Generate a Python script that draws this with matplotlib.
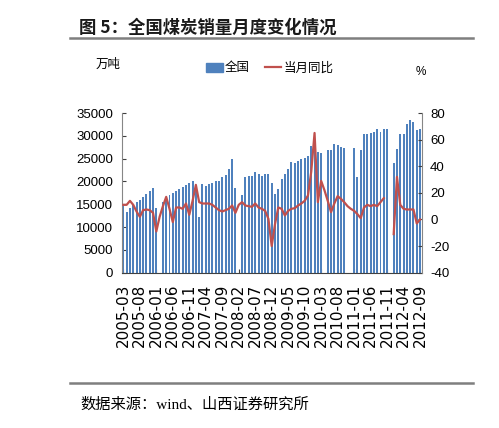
import numpy as np
import pandas as pd
import matplotlib as mpl
mpl.use("Agg")
import matplotlib.pyplot as plt
from matplotlib.patches import Patch
from matplotlib.lines import Line2D

plt.rcParams["axes.unicode_minus"] = False

# monthly categories 2005-03 .. 2012-09
months = list(pd.period_range("2005-03", "2012-09", freq="M").strftime("%Y-%m"))

# 全国煤炭销量 (万吨), nan = no bar
sales = [14850, 13400, 14100, 14800, 15400, 15950, 16500, 17300, 17800, 18650,
         14100, np.nan, 15400, 16200, 17000, 17500, 17800, 18300, 18700, 19200,
         19700, 20000, 19100, 12100, 19500, 19100, 19500, 19600, 20000, 20000,
         20900, 21500, 22800, 25000, 18500, np.nan, 17100, 20900, 21300, 21300,
         22000, 21700, 21300, 21700, 21700, 19700, 17300, 18400, 20600, 21700,
         22800, 24200, 24100, 24400, 25000, 25200, 25600, 27700, 26800, 26500,
         26200, np.nan, 27000, 27000, 28100, 27900, 27600, 27300, np.nan, np.nan,
         27300, 20900, 26800, 30300, 30500, 30650, 30900, 31600, 30900, 31600,
         31400, np.nan, 24100, 27200, 30300, 30500, 32500, 33400, 33100, 31200,
         31600]

# 当月同比 (%)
yoy = [11, 11, 14, 11, 6, 2, 7, 7.5, 7, 5,
       -9, 2, 10, 17, 8, -2, 9, 9, 8, 12,
       3.5, 14, 26, 13, 12, 12, 12, 11, 9, 7,
       6, 7, 8, 10.5, 5, 11, 13, 10.5, 10, 9.5,
       12, 9, 8, 6.5, 0.5, -20, -3.5, 9, 8, 3,
       6.5, 8, 8.5, 10.5, 12, 14, 18, 36, 65, 13,
       29, 22, 14, 5.5, 12, 17.5, 15.5, 13, 10, 8,
       6.5, 4, 1, 9, 11, 10, 11, 10, 13, 16,
       np.nan, np.nan, -11, 32, 11, 8, 7.5, 7.5, 7.5, -3,
       0]

BLUE = "#4F81BD"
RED = "#C0504D"
CJK = ["Noto Sans CJK SC", "DejaVu Sans"]

fig = plt.figure(figsize=(4.99, 4.28), dpi=100)
W, H = 499, 428

# title + rule lines
fig.text(79 / W, 1 - 28 / H, "图 5：全国煤炭销量月度变化情况", family=CJK,
         fontsize=12.5, fontweight="bold", va="center", ha="left", color="#1a1a1a")
fig.add_artist(Line2D([70 / W, 473 / W], [1 - 38 / H, 1 - 38 / H], color="#7f7f7f", lw=1.8))
fig.add_artist(Line2D([70 / W, 473 / W], [1 - 383 / H, 1 - 383 / H], color="#7f7f7f", lw=1.8))
fig.text(80 / W, 1 - 405 / H, "数据来源：wind、山西证券研究所",
         family=["Liberation Serif", "Noto Sans CJK SC"], fontsize=11, va="center", ha="left")

ax = fig.add_axes([121.7 / W, 1 - 272.7 / H, 300 / W, 159.7 / H])
ax2 = ax.twinx()

x = np.arange(len(months))
ax.bar(x, sales, width=0.6, color=BLUE, zorder=2)
ax2.plot(x, yoy, color=RED, lw=1.6, zorder=3)

ax.set_xlim(-0.5, len(months) - 0.5)
ax.set_ylim(0, 35000)
ax.set_yticks(np.arange(0, 35001, 5000))
ax2.set_ylim(-40, 80)
ax2.set_yticks(np.arange(-40, 81, 20))

ax.set_xticks(x[::5])
ax.set_xticklabels(months[::5], rotation=90, family="DejaVu Sans", fontsize=11)

for a in (ax, ax2):
    a.spines["top"].set_visible(False)
    a.tick_params(direction="in", length=3, width=0.8, colors="#404040",
                  labelcolor="black")
ax.spines["right"].set_visible(False)
ax.spines["left"].set_color("#868686")
ax.spines["bottom"].set_color("#404040")
ax2.spines["left"].set_visible(False)
ax2.spines["bottom"].set_visible(False)
ax2.spines["right"].set_color("#868686")
ax.tick_params(axis="y", labelsize=9.5, pad=6)
ax.tick_params(axis="x", pad=8)
ax2.tick_params(axis="y", labelsize=9.5, pad=6)
for lbl in ax.get_yticklabels() + ax2.get_yticklabels():
    lbl.set_family("Liberation Sans")

fig.text(108 / W, 1 - 64 / H, "万吨", family=CJK, fontsize=9, ha="center", va="center")
fig.text(421 / W, 1 - 72 / H, "%", family="Liberation Sans", fontsize=8.5, ha="center", va="center")

handles = [Patch(facecolor=BLUE, edgecolor=BLUE), Line2D([], [], color=RED, lw=1.6)]
fig.legend(handles, ["全国", "当月同比"], loc="center", bbox_to_anchor=(270 / W, 1 - 68 / H),
           ncol=2, frameon=False, prop={"family": CJK, "size": 9},
           handlelength=1.3, handletextpad=0.2, columnspacing=1.2)

fig.savefig("out.png", dpi=100, facecolor="white")
